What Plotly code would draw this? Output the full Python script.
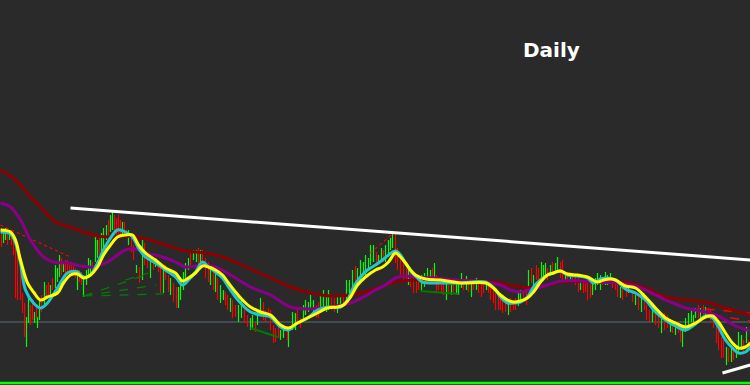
import plotly.graph_objects as go

# ---------------- bars (time, top, bottom, direction) ----------------
bar_t = [1,3,5,7,9,11,13,15,17,20,22,24,26,28,30,32,34,36,37,39,41,44,46,48,50,52,55,57,59,61,
         63,65,67,69,71,73,75,77,79,81,83,86,88,90,92,95,97,99,101,103,106,108,110,112,114,116,118,120,122,124,
         126,128,131,133,136,139,142,144,147,150,153,155,158,160,163,165,168,170,173,176,178,180,183,185,188,
         190,193,196,198,200,202,205,208,210,213,215,217,220,223,225,227,230,232,235,238,241,244,247,
         250,252,255,257,260,263,265,268,270,273,275,278,280,283,287,288,292,295,297,300,303,305,308,310,313,
         316,318,320,323,326,328,331,334,337,340,343,346,349,352,355,357,360,363,365,368,370,373,
         376,378,381,383,385,388,390,392,395,397,400,403,406,408,410,413,416,418,421,424,427,430,432,434,436,
         438,441,443,446,448,451,453,456,458,461,463,466,468,471,473,476,478,481,483,486,488,490,493,495,498,
         500,502,505,508,510,513,515,518,520,523,526,528,531,533,536,538,541,543,545,547,550,552,555,557,560,
         562,565,567,570,572,575,578,580,583,585,587,590,592,595,597,600,602,605,607,610,612,615,617,620,622,
         626,628,632,635,638,641,644,646,649,652,655,658,661,664,667,670,672,675,678,680,682,685,688,691,693,
         695,698,700,703,705,708,710,713,716,718,721,723,726,728,731,733,736,738,741,743,746,748]
bar_top = [228,230,228,230,230,232,235,240,250,268,293,303,317,297,305,300,312,305,317,300,295,282,285,282,285,278,265,268,255,258,
           262,260,260,262,262,265,268,270,270,272,275,270,258,260,262,237,240,238,233,228,225,220,215,212,215,218,215,220,222,222,
           230,230,238,245,265,267,240,243,253,260,262,258,262,268,270,265,275,278,283,287,287,280,272,263,258,
           250,250,250,248,250,250,258,262,265,268,272,278,285,290,292,295,298,300,305,305,300,308,315,
           318,315,322,310,298,302,310,308,310,325,328,327,330,325,330,330,312,313,310,318,305,300,302,295,300,
           305,302,295,290,294,290,295,298,296,295,295,280,280,270,266,268,260,262,255,258,245,245,
           252,255,248,250,245,240,238,232,233,248,257,262,268,270,273,277,278,280,275,273,268,270,268,263,275,
           280,283,283,283,285,285,283,282,280,273,280,276,280,282,280,278,282,282,285,280,283,285,288,293,295,
           298,298,300,302,298,300,298,292,290,290,288,270,268,275,265,268,262,265,263,268,265,262,263,257,262,
           260,272,272,273,275,275,278,280,280,282,283,283,282,278,273,275,278,272,275,273,278,280,285,287,285,
           287,285,290,295,293,298,298,305,310,305,310,315,315,313,315,320,320,325,325,330,327,318,313,310,315,
           308,305,308,305,307,308,310,315,322,328,337,340,347,348,345,350,347,332,335,340,327,340]
bar_bot = [247,243,240,245,240,245,255,298,300,300,313,337,347,323,325,320,323,318,328,320,312,307,300,297,295,290,288,282,277,275,
           272,278,272,277,275,275,278,290,282,285,297,285,278,275,275,262,258,255,255,248,240,238,232,230,232,237,235,238,235,236,
           237,245,252,260,273,283,280,265,268,278,270,267,272,293,293,280,292,295,302,308,308,300,290,280,270,
           265,260,262,268,265,268,278,282,285,290,292,300,303,300,305,310,312,318,317,322,318,323,327,
           330,328,332,325,315,320,322,318,330,343,342,338,340,338,340,347,330,330,325,328,320,315,312,310,315,
           318,318,310,308,312,310,310,312,313,307,306,300,300,287,285,283,280,275,275,270,265,262,
           265,262,260,262,262,257,250,248,263,270,275,280,280,285,287,293,293,290,290,287,280,282,280,280,292,
           290,292,295,300,294,295,293,295,295,288,290,290,292,297,290,290,293,297,293,290,293,300,303,310,310,
           310,313,312,315,312,310,310,306,302,300,305,290,283,290,280,285,278,278,275,280,275,275,272,272,278,
           283,283,280,280,282,285,292,290,293,292,300,298,295,290,285,290,285,285,285,283,288,290,297,298,300,
           297,293,302,305,310,312,310,320,322,322,325,328,333,330,328,332,333,335,333,342,347,332,325,322,322,
           318,318,318,315,317,318,322,328,343,350,358,358,365,362,362,360,358,352,350,352,343,350]
bar_dir = ("RGGRGRRRRRRRGGRRGRGGRGRRGRGGGRGRRRRRRGRRGGGGRGGRGGGRGGRRRRGR"
           "RGRRGRGRRGRGRRGRRGRRGGGGGRGGRGRRRGRGRGGRRGRRGGRR"
           "GGRGGRRRRRRRGGRGGGRRGGGGGRRGGGGRRGGRGGGRGGGGGGG"
           "RGGRGGGGRRRRRGRRRRGGGGRGRRRRGRGRGGGRGRGRGRRRGRRRRR"
           "RRRGRRRGGRRGRGRRGGGRGRGGRRGRGRRRGRRRRGGGGRGGGRRRGR"
           "RGRGRGRRRGRRGRRGRGRRGGGGGGRGRGRRRRRRRGRGRGGGRGR")

# ---------------- moving averages (time, level) ----------------
yel_t = [0,10,15,20,27,33,40,47,57,63,70,77,83,90,97,103,110,117,125,132,138,145,155,165,175,182,188,195,202,208,
         215,222,228,235,242,250,260,270,280,288,297,307,317,327,337,343,350,357,365,375,382,388,395,400,405,410,415,425,440,460,
         485,493,500,507,513,520,527,533,540,547,553,560,567,577,587,597,603,610,615,625,635,645,655,665,675,685,695,705,712,718,
         725,732,738,745,750]
yel_v = [230,232,240,260,283,292,300,297,293,283,275,274,278,275,267,255,245,237,235,235,245,253,260,268,273,281,278,273,266,267,
         270,275,283,292,300,307,312,315,325,328,323,318,313,308,307,305,297,285,277,270,267,262,253,257,263,270,275,279,280,283,
         283,288,295,300,302,301,298,292,282,275,273,271,274,275,277,282,280,279,280,286,288,297,308,318,323,327,323,317,316,322,
         333,343,348,347,343]
cyan_t = [0,10,15,20,25,33,40,47,57,67,77,83,90,97,103,110,117,125,132,138,145,155,165,175,182,188,195,202,208,215,
          222,228,235,242,250,260,270,280,288,297,307,317,327,340,347,353,360,367,375,382,388,395,400,405,412,417,422,440,460,485,
          495,500,507,513,520,527,533,540,547,553,560,567,577,587,593,600,607,615,625,635,645,655,665,675,685,695,705,712,718,725,
          732,738,745,750]
cyan_v = [232,234,243,263,290,303,308,303,288,273,272,277,275,263,250,238,230,232,237,248,257,263,270,277,285,280,272,262,267,272,
          278,287,297,305,312,315,317,327,330,323,318,310,307,307,300,287,277,270,265,260,255,251,255,263,273,278,282,283,283,282,
          290,297,303,303,302,297,287,280,275,273,271,275,276,278,283,279,278,280,289,293,300,312,320,326,330,324,316,318,327,340,
          348,353,352,347]
pur_t = [0,10,20,30,43,53,67,80,93,107,125,135,145,155,165,175,185,195,205,215,225,235,250,270,290,310,330,350,363,375,
         385,395,405,415,435,455,475,500,510,520,533,547,560,580,600,625,635,645,655,665,675,685,705,715,725,735,750]
pur_v = [203,207,220,240,257,262,263,266,267,262,250,249,253,255,258,262,267,266,265,267,272,278,287,295,307,309,307,303,297,290,
         285,278,276,277,278,280,281,285,290,292,289,285,281,281,282,284,286,290,295,300,304,308,312,315,320,326,331]
dred_t = [0,15,30,40,55,70,83,97,110,125,145,165,185,205,225,250,270,290,310,330,350,375,395,415,442,475,500,520,540,560,
          600,625,645,665,685,705,725,750]
dred_v = [170,180,197,207,222,227,232,236,237,236,239,245,251,253,258,269,278,287,293,296,295,289,282,280,281,281,283,287,287,282,
          282,282,288,297,300,302,308,315]

# ---------------- drawn objects ----------------
trend_t = [70, 750]
trend_v = [208, 260]
support_t = [722, 750]
support_v = [373, 365]
level_v = 322
base_v = 383
red_dot_t = [0, 70, None, 370, 393]
red_dot_v = [225, 257, None, 253, 233]
red_dash_t = [705, 750, None, 712, 750]
red_dash_v = [309, 313, None, 315, 321]
grn_dash_t = [83, 163, None, 83, 148, None, 83, 156, None, 125, 148]
grn_dash_v = [296, 294, None, 296, 274, None, 296, 285, None, 280, 273]
grn_solid_t = [250, 277, None, 420, 458]
grn_solid_v = [328, 337, None, 291, 294]
title_text = "Daily"

BG = "#2a2a2a"
fig = go.Figure()

def bar_trace(code, color):
    xs, ys = [], []
    for t, a, b, d in zip(bar_t, bar_top, bar_bot, bar_dir):
        if d == code:
            xs += [t, t, None]
            ys += [a, b, None]
    return go.Scatter(x=xs, y=ys, mode="lines", line=dict(color=color, width=1.2),
                      hoverinfo="skip", showlegend=False)

fig.add_trace(go.Scatter(x=[-1, 751], y=[level_v, level_v], mode="lines",
                         line=dict(color="#4d5661", width=1.5), hoverinfo="skip", showlegend=False))
fig.add_trace(bar_trace("G", "#00ff00"))
fig.add_trace(bar_trace("R", "#ff0000"))

fig.add_trace(go.Scatter(x=grn_dash_t, y=grn_dash_v, mode="lines",
                         line=dict(color="#008000", width=1.2, dash="dash"), hoverinfo="skip", showlegend=False))
fig.add_trace(go.Scatter(x=grn_solid_t, y=grn_solid_v, mode="lines",
                         line=dict(color="#007a00", width=2), hoverinfo="skip", showlegend=False))
fig.add_trace(go.Scatter(x=red_dot_t, y=red_dot_v, mode="lines",
                         line=dict(color="#ff0000", width=1.2, dash="dot"), hoverinfo="skip", showlegend=False))
fig.add_trace(go.Scatter(x=red_dash_t, y=red_dash_v, mode="lines",
                         line=dict(color="#ff0000", width=1.5, dash="dash"), hoverinfo="skip", showlegend=False))

fig.add_trace(go.Scatter(x=dred_t, y=dred_v, mode="lines", line=dict(color="#8b0000", width=3, shape="spline"),
                         hoverinfo="skip", showlegend=False))
fig.add_trace(go.Scatter(x=pur_t, y=pur_v, mode="lines", line=dict(color="#8b008b", width=3, shape="spline"),
                         hoverinfo="skip", showlegend=False))
fig.add_trace(go.Scatter(x=cyan_t, y=cyan_v, mode="lines", line=dict(color="#1ec8d2", width=3, shape="spline"),
                         hoverinfo="skip", showlegend=False))
fig.add_trace(go.Scatter(x=yel_t, y=yel_v, mode="lines", line=dict(color="#ffff00", width=3, shape="spline"),
                         hoverinfo="skip", showlegend=False))

fig.add_trace(go.Scatter(x=trend_t, y=trend_v, mode="lines", line=dict(color="#ffffff", width=3),
                         hoverinfo="skip", showlegend=False))
fig.add_trace(go.Scatter(x=support_t, y=support_v, mode="lines", line=dict(color="#ffffff", width=3),
                         hoverinfo="skip", showlegend=False))
fig.add_trace(go.Scatter(x=[-1, 751], y=[base_v, base_v], mode="lines",
                         line=dict(color="#00ff00", width=2.5), hoverinfo="skip", showlegend=False))

fig.add_annotation(x=551, y=50, xref="x", yref="y", text="<b>" + title_text + "</b>", showarrow=False,
                   font=dict(family="DejaVu Sans", size=20, color="#ffffff"))

fig.update_layout(
    width=750, height=385, margin=dict(l=0, r=0, t=0, b=0),
    paper_bgcolor=BG, plot_bgcolor=BG, showlegend=False,
    xaxis=dict(range=[-0.5, 749.5], visible=False, showgrid=False, zeroline=False),
    yaxis=dict(range=[385, 0], visible=False, showgrid=False, zeroline=False),
)
fig.write_html("out.html")
